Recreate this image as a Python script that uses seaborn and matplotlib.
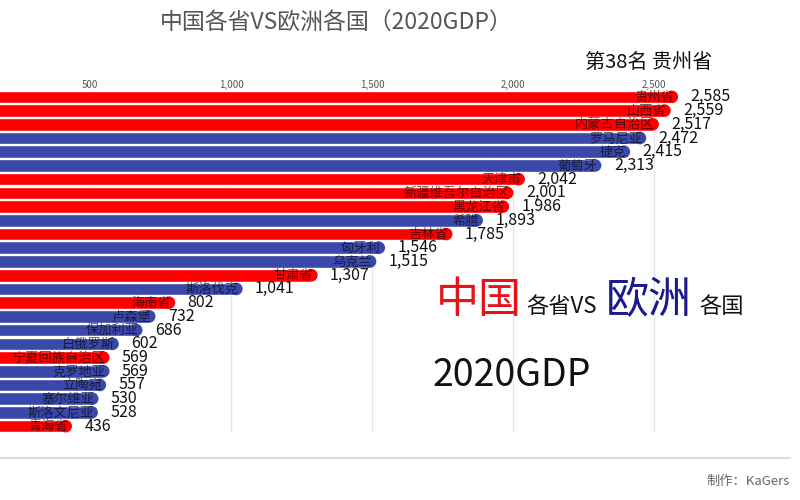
import matplotlib
matplotlib.use('Agg')
import matplotlib.pyplot as plt
from matplotlib.lines import Line2D
import seaborn as sns
import pandas as pd

# one frame of the bar race: 2020 GDP (billion USD)
names = ['贵州省', '山西省', '内蒙古自治区', '罗马尼亚', '捷克', '葡萄牙',
         '天津市', '新疆维吾尔自治区', '黑龙江省', '希腊', '吉林省', '匈牙利',
         '乌克兰', '甘肃省', '斯洛伐克', '海南省', '卢森堡', '保加利亚',
         '白俄罗斯', '宁夏回族自治区', '克罗地亚', '立陶宛', '塞尔维亚',
         '斯洛文尼亚', '青海省']
gdp = [2585, 2559, 2517, 2472, 2415, 2313, 2042, 2001, 1986, 1893, 1785, 1546,
       1515, 1307, 1041, 802, 732, 686, 602, 569, 569, 557, 530, 528, 436]
region = ['中国', '中国', '中国', '欧洲', '欧洲', '欧洲', '中国', '中国', '中国',
          '欧洲', '中国', '欧洲', '欧洲', '中国', '欧洲', '中国', '欧洲', '欧洲',
          '欧洲', '中国', '欧洲', '欧洲', '欧洲', '欧洲', '中国']
x_ticks = [500, 1000, 1500, 2000, 2500]

palette = {'中国': '#ff0000', '欧洲': '#3a48aa'}

sns.set_theme(style='white')
plt.rcParams['font.family'] = ['Noto Sans CJK SC', 'DejaVu Sans']

df = pd.DataFrame({'name': names, 'gdp': gdp, 'region': region})
cap_r = 22  # half the bar height, in data units, for the rounded end
df['body'] = df['gdp'] - cap_r
df['pos'] = range(len(df))

fig = plt.figure(figsize=(8, 5), dpi=100)
ax = fig.add_axes([0, 0.134, 0.9875, 0.686])

sns.barplot(data=df, x='body', y='name', hue='region', palette=palette,
            orient='h', width=0.92, dodge=False, legend=False, saturation=1,
            ax=ax, zorder=2)
# rounded caps
sns.scatterplot(data=df, x='body', y='pos', hue='region', palette=palette,
                s=82, marker='o', linewidth=0, legend=False, ax=ax, zorder=3)

for _, row in df.iterrows():
    ax.annotate(row['name'], (row['gdp'], row['pos']), xytext=(-3, -0.5),
                textcoords='offset points', ha='right', va='center',
                fontsize=9.5, color='black', alpha=0.62, zorder=4)
    ax.annotate(f"{row['gdp']:,}", (row['gdp'], row['pos']), xytext=(9, 0),
                textcoords='offset points', ha='left', va='center',
                fontsize=11.5, color='#111111', zorder=4)

ax.set_xlim(181, 2982)
ax.set_ylim(24.5, -0.5)
ax.xaxis.tick_top()
ax.set_xticks(x_ticks)
ax.set_xticklabels([f'{t:,}' for t in x_ticks])
ax.tick_params(axis='x', length=0, pad=0, labelsize=7, labelcolor='#555555')
ax.set_yticks([])
ax.set_xlabel('')
ax.set_ylabel('')
ax.grid(axis='x', color='#e6e6e6', linewidth=1)
ax.set_axisbelow(True)
for s in ax.spines.values():
    s.set_visible(False)

# titles and overlays
fig.text(336 / 800, 1 - 22 / 500, '中国各省VS欧洲各国（2020GDP）', ha='center',
         va='center', fontsize=16.5, color='#555555')
fig.text(585 / 800, 1 - 62 / 500, '第38名 贵州省', ha='left', va='center',
         fontsize=14.5, color='#111111')

base = 1 - 313 / 500
fig.text(436 / 800, base, '中国', fontsize=31, color='#e5141b', va='baseline')
fig.text(526 / 800, base, '各省VS', fontsize=16, color='#111111', va='baseline')
fig.text(606 / 800, base, '欧洲', fontsize=31, color='#1a1a8c', va='baseline')
fig.text(699 / 800, base, '各国', fontsize=16, color='#111111', va='baseline')
fig.text(433 / 800, 1 - 376 / 500, '2020GDP', fontsize=27, color='#111111',
         va='center', ha='left')

fig.add_artist(Line2D([0, 790 / 800], [1 - 458 / 500] * 2, color='#dddddd', lw=1.5))
fig.text(790 / 800, 1 - 481 / 500, '制作：KaGers', ha='right', va='center',
         fontsize=9.5, color='#666666')

fig.savefig('out.png', dpi=100)
plt.close(fig)
